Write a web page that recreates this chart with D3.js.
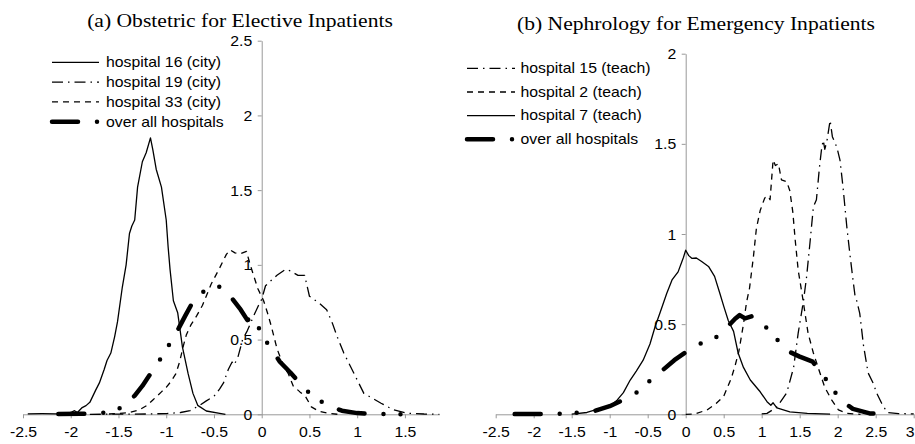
<!DOCTYPE html>
<html>
<head>
<meta charset="utf-8">
<script src="https://cdn.jsdelivr.net/npm/d3@7"></script>
<style>
body { margin: 0; background: #fff; }
svg { display: block; }
.tick text, .lbl { font-family: "Liberation Sans", Arial, Helvetica, sans-serif; font-size: 14px; fill: #000; }
.title { font-family: "Liberation Serif", "Times New Roman", serif; font-size: 18.7px; fill: #000; }
</style>
</head>
<body>
<svg id="chart" width="915" height="444"></svg>
<script>
// (a) Obstetric for Elective Inpatients -- [x, density]
var obsHosp16 = [[-2.45,0.003],[-2.3,0.004],[-2.15,0.003],[-2.05,0.006],[-2.0,0.012],[-1.96,0.024],[-1.93,0.012],
    [-1.88,0.045],[-1.84,0.058],[-1.8,0.08],[-1.74,0.16],[-1.7,0.21],[-1.65,0.3],[-1.62,0.36],[-1.58,0.41],
    [-1.54,0.52],[-1.51,0.62],[-1.46,0.85],[-1.42,1.0],[-1.385,1.21],[-1.36,1.26],[-1.33,1.30],[-1.3,1.52],
    [-1.25,1.69],[-1.21,1.75],[-1.165,1.85],[-1.14,1.77],[-1.105,1.64],[-1.05,1.52],[-1.0,1.30],[-0.98,1.12],
    [-0.96,0.97],[-0.925,0.76],[-0.88,0.68],[-0.83,0.45],[-0.77,0.27],[-0.72,0.14],[-0.67,0.06],[-0.58,0.022],
    [-0.44,0.006],[-0.38,0]];
var obsHosp19 = [[-1.8,0],[-1.5,0.001],[-1.2,0.002],[-1.0,0.005],[-0.85,0.012],[-0.75,0.025],[-0.65,0.06],
    [-0.58,0.09],[-0.5,0.12],[-0.44,0.17],[-0.4,0.21],[-0.35,0.3],[-0.31,0.35],[-0.29,0.33],[-0.25,0.38],
    [-0.2,0.5],[-0.15,0.56],[-0.09,0.65],[-0.04,0.72],[0.0,0.77],[0.04,0.86],[0.09,0.89],[0.16,0.93],
    [0.25,0.97],[0.3,0.96],[0.38,0.93],[0.45,0.93],[0.5,0.79],[0.6,0.745],[0.68,0.70],[0.74,0.61],[0.79,0.52],
    [0.86,0.41],[0.93,0.32],[1.0,0.23],[1.07,0.14],[1.16,0.107],[1.25,0.074],[1.38,0.03],[1.52,0.007],
    [1.7,0.002],[1.86,0]];
var obsHosp33 = [[-1.6,0.002],[-1.4,0.01],[-1.28,0.03],[-1.2,0.06],[-1.14,0.096],[-1.05,0.15],[-1.0,0.18],
    [-0.95,0.22],[-0.9,0.27],[-0.86,0.35],[-0.82,0.46],[-0.79,0.53],[-0.74,0.6],[-0.68,0.66],[-0.62,0.73],
    [-0.53,0.87],[-0.44,0.98],[-0.37,1.07],[-0.33,1.10],[-0.28,1.08],[-0.22,1.075],[-0.16,1.09],[-0.12,1.0],
    [-0.08,0.92],[-0.04,0.84],[0.02,0.76],[0.06,0.68],[0.1,0.59],[0.16,0.44],[0.23,0.32],[0.28,0.27],
    [0.33,0.19],[0.4,0.15],[0.46,0.118],[0.52,0.05],[0.6,0.02],[0.7,0.006],[0.8,0]];
var obsOverall = [[-2.13,0.002],[-1.9,0.003],[-1.75,0.005],[-1.63,0.011],[-1.55,0.025],[-1.46,0.047],[-1.4,0.08],
    [-1.33,0.125],[-1.25,0.19],[-1.15,0.285],[-1.05,0.38],[-0.96,0.475],[-0.87,0.575],[-0.8,0.66],[-0.72,0.754],
    [-0.6,0.827],[-0.5,0.85],[-0.44,0.854],[-0.38,0.82],[-0.32,0.783],[-0.22,0.7],[-0.15,0.63],[-0.11,0.645],
    [-0.05,0.64],[-0.02,0.55],[0.09,0.448],[0.19,0.352],[0.3,0.28],[0.4,0.207],[0.52,0.129],[0.67,0.067],
    [0.84,0.024],[1.0,0.008],[1.14,0.002],[1.5,0],[1.6,0]];

// (b) Nephrology for Emergency Inpatients
var nepHosp15 = [[1.0,0.002],[1.07,0.005],[1.2,0.04],[1.33,0.12],[1.42,0.26],[1.48,0.45],[1.55,0.63],[1.59,0.76],
    [1.635,0.95],[1.68,1.15],[1.72,1.19],[1.76,1.37],[1.79,1.48],[1.81,1.52],[1.83,1.47],[1.86,1.52],[1.9,1.63],
    [1.93,1.54],[1.99,1.48],[2.03,1.41],[2.07,1.26],[2.12,1.04],[2.16,0.89],[2.2,0.75],[2.23,0.65],[2.25,0.63],
    [2.29,0.56],[2.34,0.38],[2.4,0.23],[2.47,0.17],[2.51,0.12],[2.58,0.06],[2.65,0.01],[2.8,0.004],[3.0,0.002]];
var nepHosp2 = [[0.0,0],[0.12,0.002],[0.28,0.024],[0.4,0.06],[0.5,0.1],[0.6,0.2],[0.65,0.27],[0.7,0.35],[0.76,0.5],
    [0.8,0.62],[0.84,0.7],[0.89,0.87],[0.93,1.03],[0.98,1.13],[1.04,1.2],[1.08,1.21],[1.11,1.19],[1.13,1.3],
    [1.15,1.41],[1.18,1.38],[1.22,1.39],[1.26,1.3],[1.33,1.29],[1.37,1.24],[1.41,1.12],[1.44,0.97],[1.48,0.8],
    [1.53,0.67],[1.57,0.56],[1.61,0.45],[1.68,0.34],[1.75,0.25],[1.83,0.15],[1.92,0.08],[2.01,0.024],
    [2.12,0.005],[2.3,0]];
var nepHosp7 = [[-1.5,0.001],[-1.3,0.01],[-1.1,0.035],[-0.97,0.055],[-0.9,0.08],[-0.82,0.12],[-0.73,0.19],
    [-0.65,0.24],[-0.56,0.3],[-0.47,0.39],[-0.4,0.49],[-0.34,0.56],[-0.25,0.67],[-0.18,0.745],[-0.1,0.79],
    [-0.03,0.87],[0.0,0.91],[0.04,0.88],[0.08,0.865],[0.14,0.867],[0.21,0.847],[0.3,0.82],[0.38,0.765],
    [0.45,0.67],[0.5,0.6],[0.56,0.52],[0.63,0.46],[0.69,0.34],[0.76,0.26],[0.85,0.19],[0.93,0.15],[0.98,0.125],
    [1.07,0.07],[1.12,0.05],[1.15,0.064],[1.2,0.035],[1.37,0.014],[1.6,0.005],[1.9,0.001]];
var nepOverall = [[-2.25,0.001],[-1.8,0.002],[-1.6,0.003],[-1.4,0.009],[-1.19,0.02],[-1.0,0.045],[-0.82,0.08],
    [-0.63,0.125],[-0.47,0.186],[-0.3,0.246],[-0.15,0.3],[0.01,0.347],[0.2,0.394],[0.4,0.427],[0.56,0.49],
    [0.65,0.53],[0.71,0.55],[0.78,0.532],[0.88,0.545],[1.02,0.5],[1.175,0.43],[1.31,0.357],[1.5,0.32],
    [1.67,0.292],[1.81,0.218],[1.93,0.139],[2.07,0.07],[2.2,0.03],[2.42,0.005],[2.65,0]];

var obsLabels = ["hospital 16 (city)", "hospital 19 (city)", "hospital 33 (city)", "over all hospitals"];
var nepLabels = ["hospital 15 (teach)", "hospital 2 (teach)", "hospital 7 (teach)", "over all hospitals"];

var lineStyles = {
    solid:   {width: 1.3, dash: null, cap: "butt"},
    dashdot: {width: 1.3, dash: "11 5 1.5 5", cap: "butt"},
    dash:    {width: 1.3, dash: "6 5", cap: "butt"},
    overall: {width: 4.5, dash: "26 19 0 17 0 19", cap: "round"}
};

var svg = d3.select("#chart");
var SANS_STRETCH = 1.13;
var SVG_W = 915;

function fmt(d) { return String(+d.toFixed(1)); }

function drawPanel(opt) {
    let x = d3.scaleLinear().domain(opt.xDomain).range(opt.xRange);
    let y = d3.scaleLinear().domain([0, opt.yMax]).range([opt.y0, opt.yTop]);
    let g = svg.append("g");

    // axes go underneath the curves
    let xAxis = d3.axisBottom(x)
        .tickValues(d3.range(-2.5, opt.xTickMax + 0.01, 0.5))
        .tickSize(4).tickSizeOuter(0).tickFormat(fmt);
    g.append("g")
        .attr("transform", "translate(0," + opt.y0 + ")")
        .attr("color", "#999")
        .call(xAxis)
        .call(function (a) { a.attr("font-size", null).attr("font-family", null); })
        .selectAll("text")
        .attr("y", 22.5).attr("dy", null)
        .attr("transform", "scale(" + SANS_STRETCH + ",1)")
        .each(function (d) {
            // last label sits on the page edge: keep it inside
            let right = x(d) + this.getBBox().width * SANS_STRETCH / 2;
            if (right > SVG_W - 1) {
                d3.select(this).attr("x", (SVG_W - 1 - right) / SANS_STRETCH);
            }
        });

    let yAxis = d3.axisLeft(y)
        .tickValues(d3.range(0, opt.yMax + 0.01, 0.5))
        .tickSize(4).tickSizeOuter(0).tickFormat(fmt);
    g.append("g")
        .attr("transform", "translate(" + x(0) + ",0)")
        .attr("color", "#999")
        .call(yAxis)
        .call(function (a) { a.attr("font-size", null).attr("font-family", null); })
        .selectAll("text")
        .attr("x", 0).attr("dy", "0.36em")
        .attr("transform", "translate(-9.5,0) scale(" + SANS_STRETCH + ",1)");

    let line = d3.line()
        .x(function (d) { return x(d[0]); })
        .y(function (d) { return y(d[1]); });

    opt.series.forEach(function (s) {
        let st = lineStyles[s.style];
        g.append("path")
            .datum(s.data)
            .attr("d", line)
            .attr("fill", "none")
            .attr("stroke", "#000")
            .attr("stroke-width", st.width)
            .attr("stroke-dasharray", st.dash)
            .attr("stroke-linecap", st.cap)
            .attr("stroke-linejoin", "round");
    });

    // legend
    opt.legend.forEach(function (item, i) {
        let st = lineStyles[item.style];
        let ly = opt.legendY + i * opt.legendStep;
        g.append("line")
            .attr("x1", opt.legendX[0]).attr("x2", opt.legendX[1])
            .attr("y1", ly).attr("y2", ly)
            .attr("stroke", "#000")
            .attr("stroke-width", st.width)
            .attr("stroke-dasharray", st.dash)
            .attr("stroke-linecap", st.cap);
        g.append("text")
            .attr("class", "lbl")
            .attr("transform", "translate(" + opt.legendX[2] + "," + (ly + 4.8) + ") scale(" + SANS_STRETCH + ",1)")
            .text(item.label);
    });

    g.append("text")
        .attr("class", "title")
        .attr("text-anchor", "middle")
        .attr("transform", "translate(" + opt.titleX + "," + opt.titleY + ") scale(1.155,1)")
        .text(opt.title);
}

drawPanel({
    title: "(a) Obstetric for Elective Inpatients",
    titleX: 240, titleY: 26.7,
    xDomain: [-2.5, 1.86], xRange: [23, 439.3], xTickMax: 1.5,
    yMax: 2.5, y0: 414.3, yTop: 40.7,
    series: [
        {data: obsHosp19, style: "dashdot"},
        {data: obsHosp33, style: "dash"},
        {data: obsHosp16, style: "solid"},
        {data: obsOverall, style: "overall"}
    ],
    legend: [
        {label: obsLabels[0], style: "solid"},
        {label: obsLabels[1], style: "dashdot"},
        {label: obsLabels[2], style: "dash"},
        {label: obsLabels[3], style: "overall"}
    ],
    legendX: [52, 99, 106], legendY: 62.3, legendStep: 19.8
});

drawPanel({
    title: "(b) Nephrology for Emergency Inpatients",
    titleX: 696, titleY: 29.5,
    xDomain: [-2.5, 3], xRange: [495.7, 913.7], xTickMax: 3,
    yMax: 2, y0: 414.3, yTop: 53.7,
    series: [
        {data: nepHosp15, style: "dashdot"},
        {data: nepHosp2, style: "dash"},
        {data: nepHosp7, style: "solid"},
        {data: nepOverall, style: "overall"}
    ],
    legend: [
        {label: nepLabels[0], style: "dashdot"},
        {label: nepLabels[1], style: "dash"},
        {label: nepLabels[2], style: "solid"},
        {label: nepLabels[3], style: "overall"}
    ],
    legendX: [467, 515, 520.5], legendY: 68.4, legendStep: 23.6
});
</script>
</body>
</html>
